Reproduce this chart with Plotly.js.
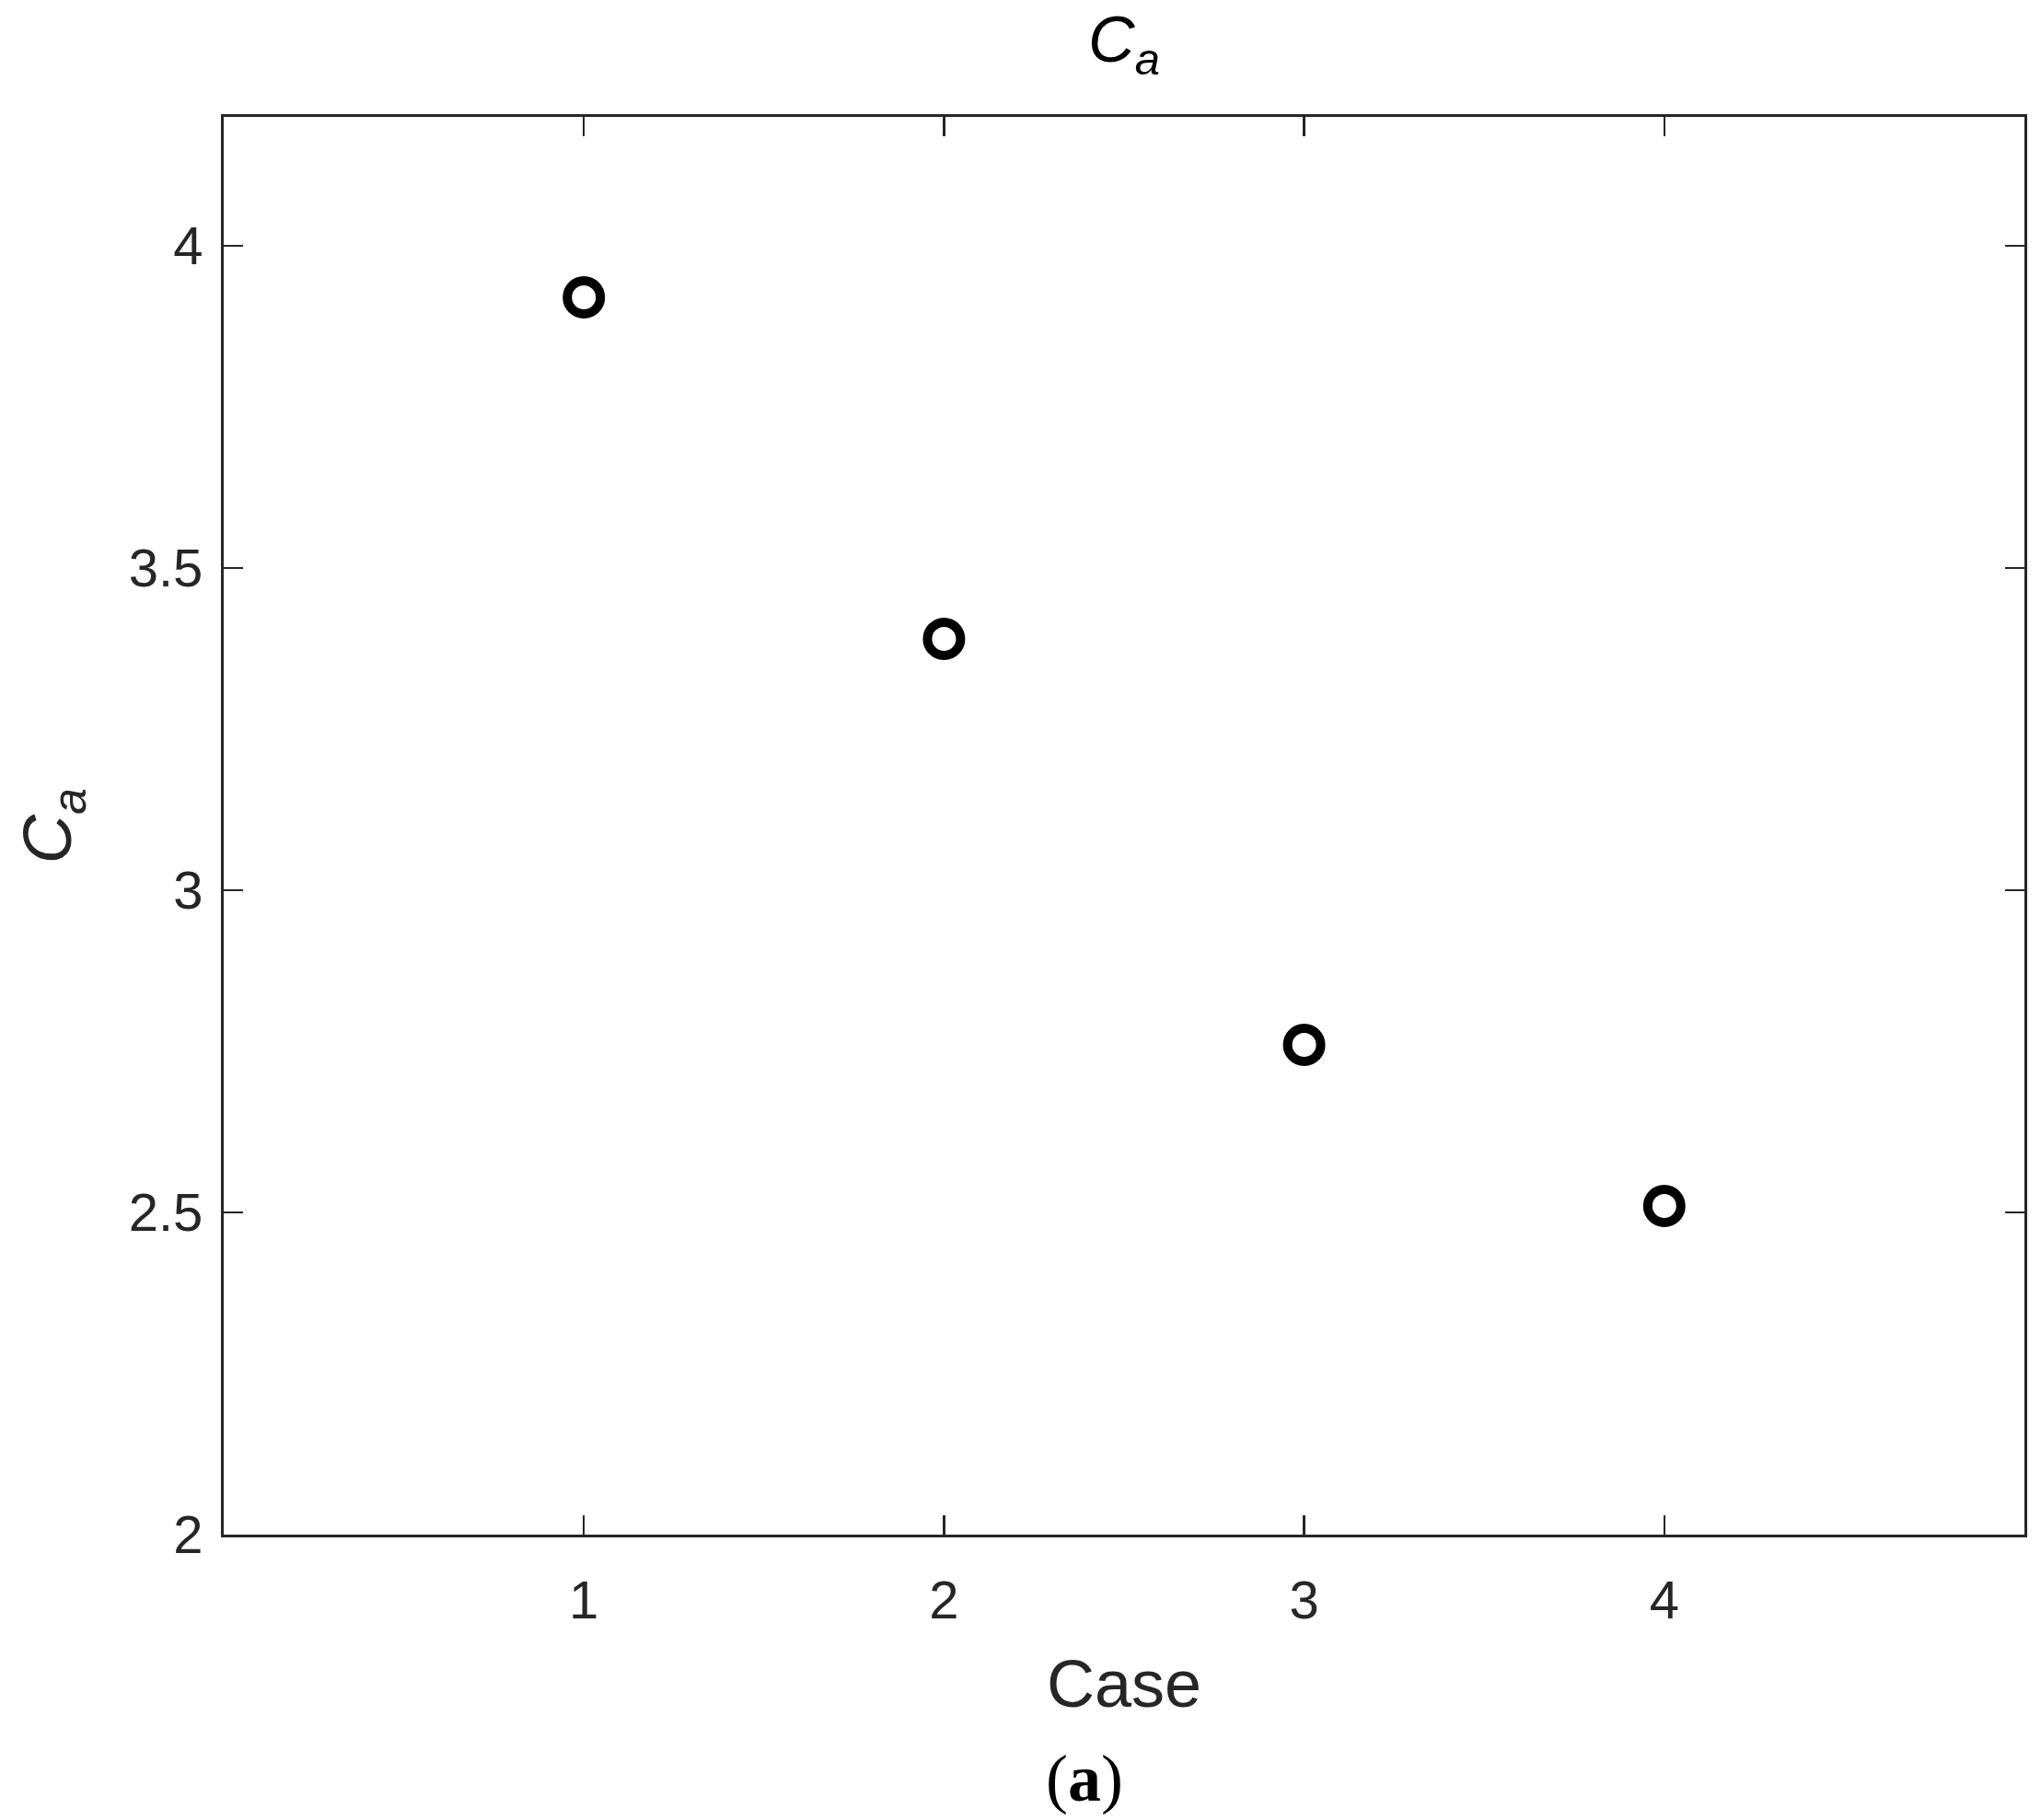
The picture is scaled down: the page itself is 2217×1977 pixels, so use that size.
<!DOCTYPE html>
<html>
<head>
<meta charset="utf-8">
<script src="https://cdn.plot.ly/plotly-3.0.1.min.js"></script>
<style>
  html, body { margin: 0; padding: 0; background: #fff; }
  #chart { width: 2217px; height: 1977px; }
</style>
</head>
<body>
<div id="chart"></div>
<script>
const cases = [1, 2, 3, 4];
const caValues = [3.92, 3.39, 2.76, 2.51];
const xTicks = [1, 2, 3, 4];
const yTicks = [2, 2.5, 3, 3.5, 4];
const yTickText = ['2', '2.5', '3', '3.5', '4'];

const INK = '#262626';
const FONT = 'Liberation Sans, Arial, Helvetica, sans-serif';

const trace = {
  x: cases,
  y: caValues,
  mode: 'markers',
  type: 'scatter',
  marker: {
    symbol: 'circle-open',
    size: 36,
    color: '#000',
    line: { color: '#000', width: 10 },
  },
  hoverinfo: 'skip',
};

const axisCommon = {
  showline: true,
  linecolor: INK,
  linewidth: 3,
  mirror: 'ticks',
  ticks: 'inside',
  ticklen: 21,
  tickwidth: 2.5,
  tickcolor: INK,
  showgrid: false,
  zeroline: false,
  tickfont: { family: FONT, size: 58, color: INK },
};

const layout = {
  width: 2217,
  height: 1977,
  paper_bgcolor: '#fff',
  plot_bgcolor: '#fff',
  showlegend: false,
  margin: { l: 243, r: 18, t: 127, b: 310 },
  title: {
    text: '<i>C</i><sub><i>a</i></sub>',
    font: { family: FONT, size: 70, color: '#000' },
    x: 0.5,
    xref: 'paper',
    y: 1 - 42 / 1977,
    yref: 'container',
    yanchor: 'middle',
  },
  xaxis: {
    ...axisCommon,
    range: [0, 5],
    tickvals: xTicks,
    ticktext: xTicks.map(String),
    ticklabelstandoff: 18,
    title: {
      text: 'Case',
      font: { family: FONT, size: 72, color: INK },
      standoff: 36,
    },
  },
  yaxis: {
    ...axisCommon,
    range: [2, 4.2],
    tickvals: yTicks,
    ticktext: yTickText,
    ticklabelstandoff: 8,
    title: {
      text: '<i>C</i><sub><i>a</i></sub>',
      font: { family: FONT, size: 74, color: INK },
      standoff: 38,
    },
  },
  annotations: [{
    text: '(<b>a</b>)',
    xref: 'paper',
    yref: 'paper',
    x: 0.478,
    y: -0.172,
    xanchor: 'center',
    yanchor: 'middle',
    showarrow: false,
    font: { family: 'Liberation Serif, Times New Roman, serif', size: 72, color: '#000' },
  }],
};

Plotly.newPlot('chart', [trace], layout, { displayModeBar: false, staticPlot: true });
</script>
</body>
</html>
